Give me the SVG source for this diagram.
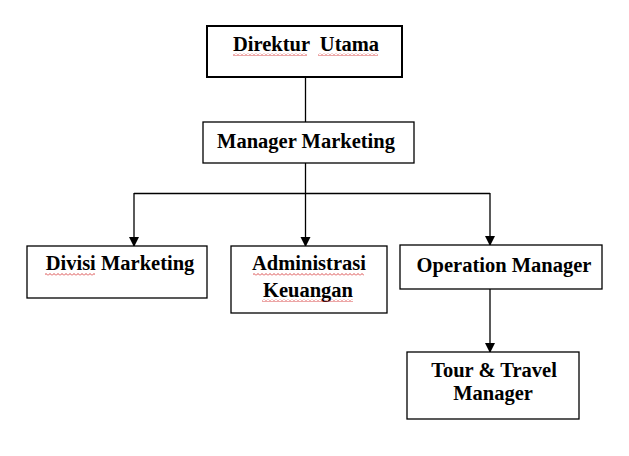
<svg xmlns="http://www.w3.org/2000/svg" width="629" height="456" viewBox="0 0 629 456">
<style>
.box{fill:#fff;stroke:#000;stroke-width:1.3}
.thick{stroke-width:2}
.lbl{font-family:'Liberation Serif','Times New Roman',serif;font-weight:700;font-size:20.5px;fill:#000;text-anchor:middle}
.ln{stroke:#000;stroke-width:1.3;fill:none}
.wavy{fill:url(#zz)}
</style>
<defs>
<marker id="ah" markerWidth="10" markerHeight="12" refX="9" refY="5" orient="auto" markerUnits="userSpaceOnUse">
<path d="M0,0 L10,5 L0,10 Z" fill="#000"/>
</marker>
<pattern id="zz" patternUnits="userSpaceOnUse" width="4" height="3">
<path d="M0 2.5 L2 0.5 L4 2.5" stroke="#d02020" stroke-width="0.8" fill="none"/>
</pattern>
</defs>
<rect width="629" height="456" fill="#fff"/>
<g id="connectors">
<line class="ln" x1="305.5" y1="77" x2="305.5" y2="122"/>
<line class="ln" x1="305.5" y1="163" x2="305.5" y2="193.5"/>
<line class="ln" x1="134" y1="193.5" x2="490" y2="193.5" stroke="#444"/>
<line class="ln" x1="134" y1="193" x2="134" y2="246" marker-end="url(#ah)"/>
<line class="ln" x1="305.5" y1="193" x2="305.5" y2="246" marker-end="url(#ah)"/>
<line class="ln" x1="490" y1="193" x2="490" y2="245" marker-end="url(#ah)"/>
<line class="ln" x1="490" y1="289" x2="490" y2="352" marker-end="url(#ah)"/>
</g>
<g id="direktur-utama">
<rect class="box thick" x="207" y="26" width="195" height="51"/>
<text class="lbl" x="306" y="51" xml:space="preserve">Direktur  Utama</text>
<rect class="wavy" x="233" y="53" width="74" height="3"/>
<rect class="wavy" x="318" y="53" width="60" height="3"/>
</g>
<g id="manager-marketing">
<rect class="box" x="203" y="122" width="211" height="41"/>
<text class="lbl" x="306" y="148">Manager Marketing</text>
</g>
<g id="divisi-marketing">
<rect class="box" x="27" y="246" width="180" height="52"/>
<text class="lbl" x="120" y="270">Divisi Marketing</text>
<rect class="wavy" x="45" y="273" width="50" height="3"/>
</g>
<g id="administrasi-keuangan">
<rect class="box" x="231" y="246" width="156" height="67"/>
<text class="lbl" x="309" y="270">Administrasi</text>
<text class="lbl" x="308" y="297">Keuangan</text>
<rect class="wavy" x="253" y="273" width="111" height="3"/>
<rect class="wavy" x="262" y="299" width="91" height="3"/>
</g>
<g id="operation-manager">
<rect class="box" x="400" y="245" width="202" height="44"/>
<text class="lbl" x="504" y="272">Operation Manager</text>
</g>
<g id="tour-travel-manager">
<rect class="box" x="407" y="352" width="172" height="67"/>
<text class="lbl" x="494" y="377">Tour &amp; Travel</text>
<text class="lbl" x="493" y="400">Manager</text>
</g>
</svg>
